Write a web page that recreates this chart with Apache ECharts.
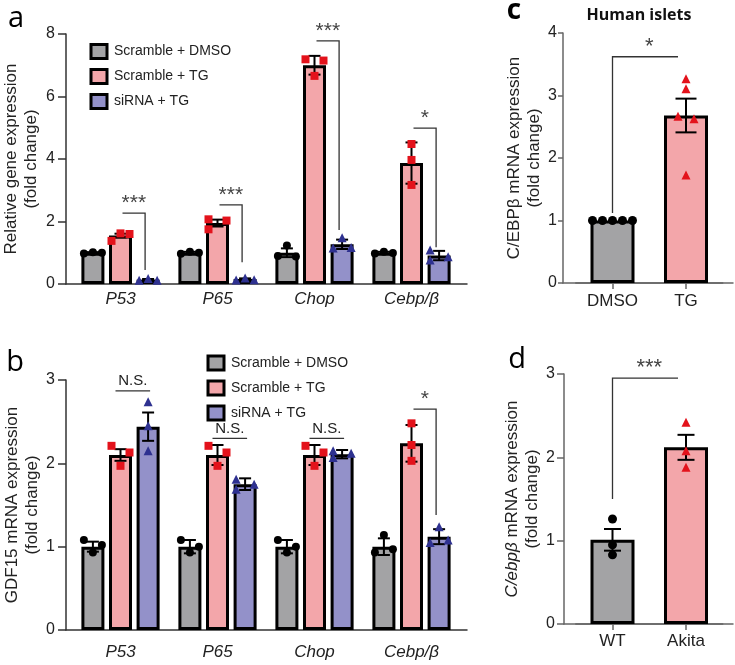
<!DOCTYPE html>
<html><head><meta charset="utf-8">
<script src="https://cdn.jsdelivr.net/npm/echarts@6/dist/echarts.min.js"></script>
<style>html,body{margin:0;padding:0;background:#fff}#c{width:735px;height:665px}</style>
</head><body><div id="c"></div>
<script>
// ================= DATA =================
const genes = ['P53', 'P65', 'Chop', 'Cebp/β'];
const groupNames = ['Scramble + DMSO', 'Scramble + TG', 'siRNA + TG'];

// Panel a: relative gene expression
const aTicks = [0, 2, 4, 6, 8];
const aGrayMean = [1.0, 1.0, 1.0, 1.0];
const aPinkMean = [1.55, 1.95, 7.0, 3.87];
const aBlueMean = [0.14, 0.16, 1.27, 0.91];
const aGraySem = [0.02, 0.03, 0.14, 0.03];
const aPinkSem = [0.06, 0.11, 0.3, 0.66];
const aBlueSem = [0.02, 0.02, 0.15, 0.15];
const aGrayPts = [[0.98, 1.02, 1.0], [0.97, 1.03, 1.0], [0.9, 1.23, 0.88], [0.98, 1.03, 0.99]];
const aPinkPts = [[1.38, 1.62, 1.6], [2.07, 1.75, 2.03], [7.19, 6.66, 7.15], [4.48, 3.97, 3.17]];
const aBluePts = [[0.12, 0.18, 0.12], [0.13, 0.19, 0.14], [1.15, 1.48, 1.17], [1.09, 0.77, 0.87]];
const aSigLabel = ['***', '***', '***', '*'];
const aSigTop = [2.27, 2.53, 7.78, 4.99];
const aSigBottom = [0.45, 0.7, 1.73, 1.18];

// Panel b: GDF15 mRNA expression
const bTicks = [0, 1, 2, 3];
const bGrayMean = [1.0, 1.0, 1.0, 1.0];
const bPinkMean = [2.1, 2.1, 2.1, 2.24];
const bBlueMean = [2.44, 1.75, 2.11, 1.12];
const bGraySem = [0.06, 0.08, 0.08, 0.1];
const bPinkSem = [0.07, 0.12, 0.12, 0.22];
const bBlueSem = [0.17, 0.07, 0.05, 0.09];
const bGrayPts = [[1.08, 0.93, 1.02], [1.08, 0.93, 1.0], [1.08, 0.93, 1.0], [0.93, 1.14, 0.97]];
const bPinkPts = [[2.21, 1.97, 2.13], [2.21, 1.97, 2.13], [2.21, 1.97, 2.13], [2.48, 2.22, 2.03]];
const bBluePts = [[2.74, 2.45, 2.15], [1.81, 1.69, 1.75], [2.15, 2.07, 2.12], [1.05, 1.24, 1.08]];
const bSigLabel = ['N.S.', 'N.S.', 'N.S.', '*'];
const bSigTop = [2.87, 2.3, 2.3, 2.65];
const bSigBottom = [null, null, null, 1.38];

// Panel c: Human islets C/EBPβ
const cCats = ['DMSO', 'TG'];
const cTicks = [0, 1, 2, 3, 4];
const cMean = [1.0, 2.68];
const cSem = [0, 0.27];
const cPts = [[1.0, 1.0, 1.0, 1.0, 1.0], [3.27, 3.11, 2.67, 2.63, 1.73]];
const cSigLabel = '*';
const cSigTop = 3.62;
const cSigBottom = 1.12;

// Panel d: C/ebpβ WT vs Akita
const dCats = ['WT', 'Akita'];
const dTicks = [0, 1, 2, 3];
const dMean = [1.01, 2.12];
const dSem = [0.13, 0.15];
const dPts = [[1.26, 0.95, 0.83], [2.42, 2.08, 1.88]];
const dSigLabel = '***';
const dSigTop = 2.95;
const dSigBottom = 1.5;

// ================= STYLE / LAYOUT =================
const FONT = '"Liberation Sans", Arial, sans-serif';
const FILL = ['#a3a3a5', '#f3a6aa', '#9391c9'];
const PT_COLOR = ['#000000', '#e3121b', '#2e3190'];
const PT_SYMBOL = ['circle', 'rect', 'triangle'];
const PT_SIZE = [8, 8, 9];
const BAR_W = 23, GAP = 0.2;
const STEP = BAR_W * (1 + GAP);
const OFF = [-STEP, 0, STEP];
const J = 9;
// horizontal jitter of dots (px), per group, per category
const aJit = [
  [[-J, 0, J], [-J, 0, J], [-J, 0, J], [-J, 0, J]],
  [[-J, 0, J], [-J, -J, J], [-J, 0, J], [0, 0, 0]],
  [[-J, 0, J], [-J, 0, J], [-J, 0, J], [-J, -J, J]]
];
const bJit = [
  [[-J, 0, J], [-J, 0, J], [-J, 0, J], [-J, 0, J]],
  [[-J, 0, J], [-J, 0, J], [-J, 0, J], [0, 0, 0]],
  [[0, 0, 0], [-J, -J, J], [-J, -J, J], [-J, 0, J]]
];
const cJit = [[-20, -10, 0, 10, 20], [0, 0, -8, 8, 0]];
const dJit = [[0, 0, 0], [0, 0, 0]];

const AX = '#333', AX2 = '#666', TXT = '#222';

function range(ticks) { return { min: ticks[0], max: ticks[ticks.length - 1], interval: ticks[1] - ticks[0] }; }
// visible y axis (lives in the "frame" grid)
function yAxisCfg(grid, ticks, name, gap, color, tickLen, margin, rich) {
  return Object.assign({
    type: 'value', gridIndex: grid,
    axisLine: { show: true, lineStyle: { color: color, width: 1.5 } },
    axisTick: { show: true, length: tickLen, lineStyle: { color: color, width: 1.5 } },
    axisLabel: { fontSize: 16, color: TXT, margin: margin, fontFamily: FONT },
    splitLine: { show: false },
    name: name, nameLocation: 'middle', nameGap: gap, nameMoveOverlap: false,
    nameTextStyle: Object.assign({ fontSize: 17, lineHeight: 20, color: TXT, fontFamily: FONT, align: 'center' }, rich ? { rich: rich } : {})
  }, range(ticks));
}
// hidden y axis with identical scale (lives in the bar grid)
function yHiddenCfg(grid, ticks) {
  return Object.assign({ type: 'value', gridIndex: grid, show: false, splitLine: { show: false } }, range(ticks));
}
function xCatCfg(grid, cats, margin, italic, ticks, color) {
  return {
    type: 'category', gridIndex: grid, data: cats,
    axisLine: { show: ticks, lineStyle: { color: color, width: 1.5 } },
    axisTick: { show: ticks, alignWithLabel: true, length: 6, lineStyle: { color: color, width: 1.5 } },
    axisLabel: { fontSize: 17, color: TXT, margin: margin, fontStyle: italic ? 'italic' : 'normal', fontFamily: FONT }
  };
}
function xLineCfg(grid, color) {
  return {
    type: 'value', gridIndex: grid, min: 0, max: 1,
    axisLine: { show: true, onZero: false, lineStyle: { color: color, width: 1.5 } },
    axisTick: { show: false }, axisLabel: { show: false }, splitLine: { show: false }
  };
}

function errSeries(axIdx, means, sems, offset, capW) {
  return {
    type: 'custom', xAxisIndex: axIdx, yAxisIndex: axIdx, z: 5, silent: true,
    data: means.map((m, i) => [i, m, sems[i]]),
    renderItem(params, api) {
      const c = api.value(0), m = api.value(1), s = api.value(2);
      if (!s) return { type: 'group', children: [] };
      const t = api.coord([c, m + s]), b = api.coord([c, m - s]);
      const x = t[0] + offset;
      const st = { stroke: '#000', lineWidth: 2 };
      return { type: 'group', children: [
        { type: 'line', shape: { x1: x, y1: t[1], x2: x, y2: b[1] }, style: st },
        { type: 'line', shape: { x1: x - capW / 2, y1: t[1], x2: x + capW / 2, y2: t[1] }, style: st },
        { type: 'line', shape: { x1: x - capW / 2, y1: b[1], x2: x + capW / 2, y2: b[1] }, style: st }
      ] };
    }
  };
}
function dotSeries(axIdx, pts, jit, baseOff, color, symbol, size) {
  const data = [];
  pts.forEach((arr, cat) => arr.forEach((v, k) => {
    data.push({ value: [cat, v], symbolOffset: [baseOff + jit[cat][k], 0] });
  }));
  return {
    type: 'scatter', xAxisIndex: axIdx, yAxisIndex: axIdx, z: 6, silent: true,
    symbol: symbol, symbolSize: size, itemStyle: { color: color, opacity: 1 }, data: data
  };
}
function groupedBrackets(axIdx, labels, tops, bottoms, starSize) {
  return {
    type: 'custom', xAxisIndex: axIdx, yAxisIndex: axIdx, z: 7, silent: true,
    data: tops.map((t, i) => [i, t]),
    renderItem(params, api) {
      const i = params.dataIndex;
      const p = api.coord([api.value(0), api.value(1)]);
      const sig = bottoms[i] != null;
      const l = p[0] + OFF[1] + (sig ? 2 : -5);
      const r = p[0] + OFF[2] + (sig ? -3 : 2);
      const pts = [[l, p[1]], [r, p[1]]];
      if (sig) pts.push([r, api.coord([0, bottoms[i]])[1]]);
      const isStar = labels[i].indexOf('*') >= 0;
      return { type: 'group', children: [
        { type: 'polyline', shape: { points: pts }, style: { stroke: '#333', lineWidth: 1.3, fill: null } },
        { type: 'text', style: { text: labels[i], x: (l + r) / 2, y: p[1] + (isStar ? 1 : -2), align: 'center', verticalAlign: 'bottom',
          fontSize: isStar ? starSize : 15, fontFamily: FONT, fill: isStar ? '#444' : TXT } }
      ] };
    }
  };
}
function pairBracket(axIdx, label, top, bottom, starSize) {
  return {
    type: 'custom', xAxisIndex: axIdx, yAxisIndex: axIdx, z: 7, silent: true,
    data: [[0, top]],
    renderItem(params, api) {
      const a = api.coord([0, top]), b = api.coord([1, top]);
      const yb = api.coord([0, bottom])[1];
      const xl = a[0], xr = b[0] - 8;
      return { type: 'group', children: [
        { type: 'polyline', shape: { points: [[xl, yb], [xl, a[1]], [xr, a[1]]] }, style: { stroke: '#333', lineWidth: 1.3, fill: null } },
        { type: 'text', style: { text: label, x: (xl + xr) / 2 + 4, y: a[1] + 1, align: 'center', verticalAlign: 'bottom',
          fontSize: starSize, fontFamily: FONT, fill: '#444' } }
      ] };
    }
  };
}

// ================= BUILD =================
const series = [];
function groupedPanel(axIdx, means, sems, pts, jit) {
  means.forEach((m, g) => {
    series.push({
      type: 'bar', name: groupNames[g], xAxisIndex: axIdx, yAxisIndex: axIdx, data: m,
      barWidth: BAR_W, barGap: (GAP * 100) + '%', z: 2, silent: true,
      itemStyle: { color: FILL[g], borderColor: '#000', borderWidth: 3 }
    });
  });
  means.forEach((m, g) => series.push(errSeries(axIdx, m, sems[g], OFF[g], 12)));
  pts.forEach((p, g) => series.push(dotSeries(axIdx, p, jit[g], OFF[g], PT_COLOR[g], PT_SYMBOL[g], PT_SIZE[g])));
}
groupedPanel(0, [aGrayMean, aPinkMean, aBlueMean], [aGraySem, aPinkSem, aBlueSem], [aGrayPts, aPinkPts, aBluePts], aJit);
series.push(groupedBrackets(0, aSigLabel, aSigTop, aSigBottom, 21));
groupedPanel(2, [bGrayMean, bPinkMean, bBlueMean], [bGraySem, bPinkSem, bBlueSem], [bGrayPts, bPinkPts, bBluePts], bJit);
series.push(groupedBrackets(2, bSigLabel, bSigTop, bSigBottom, 21));

function pairPanel(axIdx, means, sems, pts, jit, symbols, colors, capW, sigLabel, sigTop, sigBottom, starSize) {
  series.push({
    type: 'bar', name: 'pair' + axIdx, xAxisIndex: axIdx, yAxisIndex: axIdx, barWidth: 44, z: 2, silent: true,
    data: means.map((m, i) => ({ value: m, itemStyle: { color: FILL[i], borderColor: '#000', borderWidth: 3 } }))
  });
  series.push(errSeries(axIdx, means, sems, 0, capW));
  pts.forEach((p, i) => {
    const ptsByCat = means.map((_, c) => c === i ? p : []);
    const jitByCat = means.map((_, c) => c === i ? jit[i] : []);
    series.push(dotSeries(axIdx, ptsByCat, jitByCat, 0, colors[i], symbols[i], 9));
  });
  series.push(pairBracket(axIdx, sigLabel, sigTop, sigBottom, starSize));
}
pairPanel(4, cMean, cSem, cPts, cJit, ['circle', 'triangle'], ['#000', '#e3121b'], 21, cSigLabel, cSigTop, cSigBottom, 22);
pairPanel(6, dMean, dSem, dPts, dJit, ['circle', 'triangle'], ['#000', '#e3121b'], 17, dSigLabel, dSigTop, dSigBottom, 22);

const legendBase = {
  orient: 'vertical', icon: 'rect', itemWidth: 16, itemHeight: 14, itemGap: 8, selectedMode: false,
  data: groupNames, itemStyle: { borderColor: '#000', borderWidth: 3 },
  textStyle: { fontSize: 14, color: TXT, fontFamily: FONT, padding: [0, 0, 0, 2] }
};

function g(left, top, width, height) {
  return { left: left, top: top, width: width, height: height, containLabel: false, outerBoundsMode: 'none' };
}

const option = {
  animation: false,
  backgroundColor: '#fff',
  grid: [
    g(72, 34, 388, 250), g(66, 34, 401, 250),
    g(72, 380, 388, 250), g(66, 380, 401, 250),
    g(575.75, 33, 147, 250), g(563, 33, 170, 250),
    g(575.75, 374, 147, 250), g(564, 374, 169, 250)
  ],
  xAxis: [
    xCatCfg(0, genes, 7, true, false, AX), xLineCfg(1, AX),
    xCatCfg(2, genes, 14, true, false, AX), xLineCfg(3, AX),
    xCatCfg(4, cCats, 10, false, true, AX2), xLineCfg(5, AX2),
    xCatCfg(6, dCats, 9, false, true, AX2), xLineCfg(7, AX2)
  ],
  yAxis: [
    yHiddenCfg(0, aTicks), yAxisCfg(1, aTicks, 'Relative gene expression\n(fold change)', 25, AX, 8, 11),
    yHiddenCfg(2, bTicks), yAxisCfg(3, bTicks, 'GDF15 mRNA expression\n(fold change)', 24, AX, 8, 11),
    yHiddenCfg(4, cTicks), yAxisCfg(5, cTicks, 'C/EBPβ mRNA expression\n(fold change)', 19, AX2, 5, 6),
    yHiddenCfg(6, dTicks), yAxisCfg(7, dTicks, '{i|C/ebpβ} mRNA expression\n(fold change)', 22, AX2, 7, 9,
      { i: { fontStyle: 'italic', fontSize: 17, lineHeight: 20, color: TXT, fontFamily: FONT } })
  ],
  legend: [
    Object.assign({ left: 84.5, top: 38 }, legendBase),
    Object.assign({ left: 201.5, top: 349.5 }, legendBase)
  ],
  graphic: [
    { type: 'text', x: 16, y: 4, style: { text: 'a', fontSize: 29, fontFamily: '"Open Sans", sans-serif', fill: '#000', align: 'center', verticalAlign: 'top' } },
    { type: 'text', x: 15, y: 348, style: { text: 'b', fontSize: 29, fontFamily: '"Open Sans", sans-serif', fill: '#000', align: 'center', verticalAlign: 'top' } },
    { type: 'text', x: 514, y: -3, style: { text: 'c', fontSize: 28, fontWeight: 'bold', fontFamily: '"Open Sans", sans-serif', fill: '#000', align: 'center', verticalAlign: 'top' } },
    { type: 'text', x: 517, y: 345, style: { text: 'd', fontSize: 29, fontFamily: '"Open Sans", sans-serif', fill: '#000', align: 'center', verticalAlign: 'top' } },
    { type: 'text', x: 639, y: 15, style: { text: 'Human islets', fontSize: 16, fontWeight: 'bold', fontFamily: '"Open Sans", sans-serif', fill: '#111', align: 'center', verticalAlign: 'middle' } }
  ],
  series: series
};
echarts.init(document.getElementById('c'), null, { renderer: 'canvas' }).setOption(option);
</script></body></html>
